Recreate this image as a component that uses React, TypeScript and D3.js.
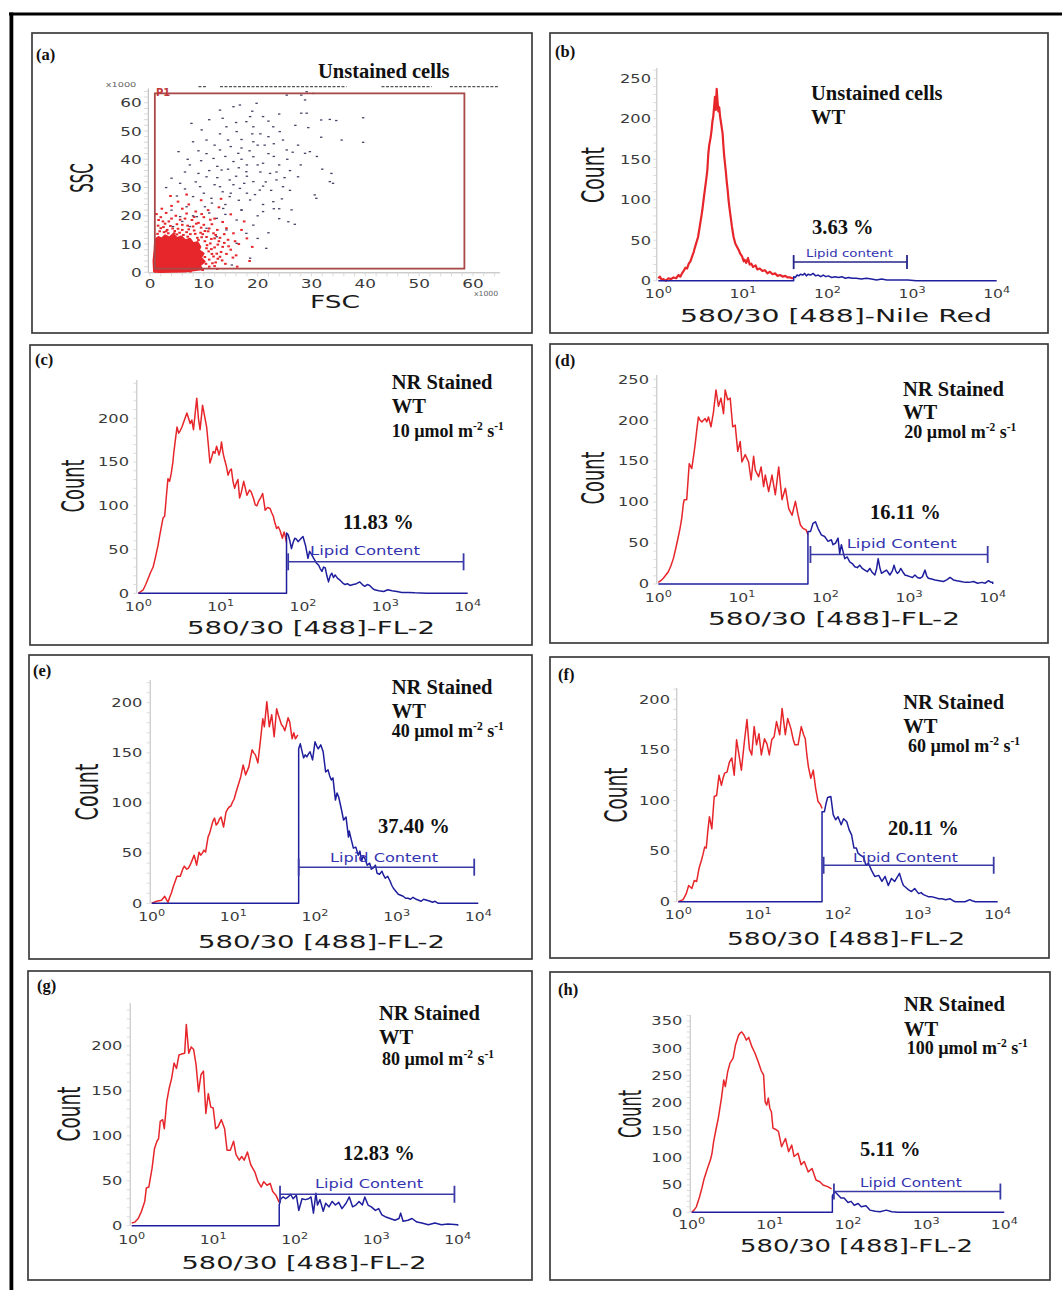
import React from 'react';
import * as d3 from 'd3';

type Pt = [number, number];

// ---------------- DATA ----------------
const panelLetters = ['(a)', '(b)', '(c)', '(d)', '(e)', '(f)', '(g)', '(h)'];
const lightIntensities = ['10', '20', '40', '60', '80', '100'];
const lipidPercents = ['3.63', '11.83', '16.11', '37.40', '20.11', '12.83', '5.11'];
const decadeTicks = [0, 1, 2, 3, 4];
const scatterTicks = [0, 10, 20, 30, 40, 50, 60];

// (a) FSC vs SSC (x1000)
const aCoreOutline: Pt[] = [[0.8, 0.3], [0.7, 4], [0.9, 8], [1.0, 11.5], [1.6, 12.4], [2.2, 11.8], [2.8, 13.0], [3.6, 12.2], [4.3, 13.4], [5.0, 12.0], [5.8, 12.6], [6.6, 11.2], [7.4, 11.8], [8.0, 10.2], [8.8, 10.6], [9.3, 9.0], [9.0, 7.8], [9.9, 6.6], [9.4, 5.2], [10.1, 3.8], [9.2, 2.4], [9.6, 1.2], [8.2, 0.8], [6.5, 0.4], [4.0, 0.3], [2.0, 0.2]];
const aRedDots: Pt[] = [[10.5, 12.5], [11.2, 10.2], [12.0, 8.8], [11.5, 6.5], [12.8, 11.0], [13.5, 9.0], [10.8, 14.5], [9.5, 15.8], [8.2, 14.8], [7.0, 16.5], [6.0, 15.0], [5.0, 17.0], [4.2, 15.5], [3.5, 18.0], [2.5, 16.0], [2.0, 19.5], [1.8, 14.5], [3.0, 21.0], [4.8, 20.0], [6.5, 19.0], [7.8, 18.5], [9.0, 17.5], [10.0, 19.5], [11.5, 17.0], [12.5, 15.0], [13.8, 13.5], [14.5, 11.5], [15.0, 8.0], [13.0, 5.5], [12.2, 3.5], [11.0, 2.0], [14.0, 3.0], [16.0, 6.0], [15.5, 13.8], [12.0, 19.0], [8.5, 21.5], [6.0, 22.5], [4.0, 23.5], [10.8, 22.0], [13.5, 17.8], [16.5, 10.0], [17.0, 15.0], [18.0, 12.0], [9.8, 13.5], [8.8, 12.2], [7.5, 13.5], [5.5, 14.0], [3.0, 14.5], [1.5, 16.5], [11.8, 13.8], [10.2, 11.0], [10.5, 8.5], [11.0, 4.5], [9.8, 0.8], [7.5, 0.3], [12.5, 1.2], [14.2, 6.5], [16.2, 2.0], [2.2, 22.5], [5.2, 25.0], [7.2, 24.0], [9.5, 25.5], [12.8, 23.0], [15.0, 20.5], [17.5, 18.0], [19.0, 9.0], [18.5, 4.0], [13.2, 26.0], [6.8, 27.5], [3.8, 27.0], [1.6, 18.5], [2.8, 17.2], [4.5, 13.8], [6.2, 13.2], [8.0, 16.2], [10.0, 16.8], [11.0, 15.5], [12.0, 12.0], [13.2, 7.2], [12.6, 4.8], [10.6, 9.6], [11.4, 11.8], [10.9, 7.4], [11.8, 5.6], [10.4, 3.0], [11.6, 3.2], [12.4, 6.6], [9.6, 12.4], [8.4, 13.6], [6.8, 14.2], [5.2, 15.4], [3.8, 16.4], [2.6, 14.2], [1.4, 13.6], [2.0, 15.6], [3.2, 15.0], [4.6, 14.6], [6.0, 16.8], [7.2, 15.2], [8.6, 17.2], [9.4, 14.0], [10.2, 14.6], [12.2, 13.2], [13.0, 12.2], [12.6, 9.8], [13.8, 10.4], [11.4, 8.2], [10.2, 5.4], [12.0, 2.2], [13.4, 4.2], [14.6, 9.2], [15.4, 5.2], [8.2, 19.6], [5.6, 18.6], [4.0, 19.0], [2.4, 18.0], [1.2, 20.6], [6.8, 20.8], [9.6, 20.6], [11.2, 18.6], [14.2, 15.6], [15.8, 11.0], [7.0, 12.6], [5.0, 13.4], [3.4, 13.8], [9.0, 11.4]];
const aDarkDots: Pt[] = [[39.6, 54.7], [39.6, 46.0], [33.4, 54.1], [34.6, 53.7], [31.8, 47.8], [35.6, 46.8], [33.7, 35.0], [33.4, 32.1], [34.0, 31.5], [30.9, 26.2], [30.6, 27.4], [26.9, 17.0], [25.7, 17.9], [26.3, 22.1], [29.4, 51.2], [29.1, 56.3], [25.4, 62.7], [28.1, 62.7], [28.8, 61.0], [29.1, 63.9], [30.3, 63.3], [31.8, 53.9], [28.1, 56.3], [29.7, 42.7], [28.8, 42.1], [27.5, 33.8], [24.7, 30.3], [25.4, 43.3], [24.7, 46.8], [24.1, 49.8], [22.9, 51.5], [22.0, 48.0], [21.0, 55.1], [19.8, 59.8], [16.7, 59.2], [15.5, 58.6], [13.0, 57.4], [7.7, 52.7], [9.6, 50.4], [10.5, 46.8], [8.0, 46.2], [5.3, 42.7], [7.4, 38.0], [4.0, 33.3], [5.6, 31.5], [18.6, 55.1], [17.9, 53.3], [19.2, 51.5], [14.2, 51.5], [16.1, 49.8], [14.5, 46.8], [19.2, 46.2], [21.3, 45.0], [13.0, 43.3], [16.4, 42.1], [19.2, 40.9], [11.8, 40.3], [15.5, 39.2], [21.0, 38.6], [13.3, 36.2], [17.9, 35.6], [22.3, 35.0], [10.5, 33.8], [14.8, 32.7], [19.2, 32.1], [23.5, 32.7], [9.3, 30.3], [13.0, 30.3], [16.7, 29.7], [20.4, 29.1], [8.0, 26.8], [11.4, 26.2], [14.8, 26.8], [18.6, 25.6], [22.9, 25.0], [6.8, 23.2], [10.2, 23.2], [13.6, 22.6], [17.0, 22.1], [21.0, 21.5], [5.6, 19.7], [8.7, 19.7], [12.4, 19.1], [16.1, 18.5], [19.2, 16.7], [4.3, 16.2], [7.4, 16.2], [10.5, 15.6], [14.2, 15.0], [17.9, 13.8], [21.6, 8.5], [18.6, 5.0], [15.2, 2.6], [12.4, 12.6], [16.1, 10.3], [6, 18], [8, 20], [11, 21], [14, 24], [17, 22], [20, 20], [22, 14], [24, 19], [10, 28], [12, 31], [16, 34], [18, 28], [21, 24], [26, 29], [28, 38], [23, 41], [20, 45], [17, 47], [13, 49], [11, 54], [19, 57], [24, 56], [27, 52], [31, 41], [15, 28], [9, 35], [7, 40], [5, 27], [4, 22], [3, 30], [12.5, 37.5], [15, 44.5], [18, 38], [20.5, 35.5], [22.5, 29], [24.5, 26], [26, 36], [23, 45.5], [17.5, 31.5], [14, 20.5], [11.5, 24.5], [9, 43], [6.5, 35.5], [20, 12], [23, 22.5], [25, 33.5], [27.5, 45], [32, 36.5], [13.5, 54.5], [16, 53], [12, 45], [14, 41], [16.5, 37], [18.5, 43], [20.5, 49], [22, 42], [24, 38], [25.5, 40], [21.5, 32], [19.5, 27.5], [16.5, 25.5], [13.5, 28.5], [11, 36], [8.5, 32], [6.5, 29.5], [9.5, 39.5], [12.5, 33.5], [15.5, 31], [18, 34], [21, 30.5], [24, 22.5], [17, 40], [14.5, 36.5], [10.5, 42], [19, 49], [22, 53.5], [17, 44], [23.5, 35.5], [26.5, 42.5], [20, 38]];
const aTopEventSegments: Pt[] = [[9, 10.5], [13, 36.5], [43, 52.3], [55.7, 64.9]];
const aTopEventLevel = 65.7;
const aGateP1 = { x0: 0.9, x1: 58.4, y0: 1.3, y1: 63.3 };

// (b) unstained, (decade exponent, count)
const bRed: Pt[] = [[0, 3], [0.02, 5], [0.04, 1], [0.06, 2], [0.09, 0], [0.12, 3], [0.15, 2], [0.18, 4], [0.21, 3], [0.24, 7], [0.26, 5], [0.28, 9], [0.30, 12], [0.32, 16], [0.34, 15], [0.36, 21], [0.38, 24], [0.40, 30], [0.42, 36], [0.43, 40], [0.45, 47], [0.47, 54], [0.49, 67], [0.51, 80], [0.52, 87], [0.54, 104], [0.55, 112], [0.57, 128], [0.58, 137], [0.59, 155], [0.60, 166], [0.62, 178], [0.63, 186], [0.64, 197], [0.65, 203], [0.66, 215], [0.67, 227], [0.68, 211], [0.69, 237], [0.70, 222], [0.71, 209], [0.72, 214], [0.73, 203], [0.74, 196], [0.76, 182], [0.77, 166], [0.78, 153], [0.79, 143], [0.80, 133], [0.81, 121], [0.82, 112], [0.83, 100], [0.84, 91], [0.86, 75], [0.87, 67], [0.89, 54], [0.91, 46], [0.93, 42], [0.95, 38], [0.97, 33], [0.99, 30], [1.01, 24], [1.02, 26], [1.04, 22], [1.06, 28], [1.08, 20], [1.10, 21], [1.12, 17], [1.15, 19], [1.17, 14], [1.20, 15], [1.23, 12], [1.26, 13], [1.29, 9], [1.32, 11], [1.35, 8], [1.38, 9], [1.41, 6], [1.44, 7], [1.47, 5], [1.50, 6], [1.53, 4], [1.56, 4], [1.58, 3], [1.60, 3]];
const bBlue: Pt[] = [[1.60, 5], [1.62, 4], [1.64, 7], [1.66, 6], [1.68, 8], [1.71, 7], [1.73, 9], [1.75, 6], [1.77, 8], [1.80, 7], [1.83, 9], [1.86, 6], [1.89, 7], [1.92, 5], [1.95, 7], [1.98, 5], [2.01, 6], [2.05, 4], [2.09, 5], [2.13, 4], [2.17, 5], [2.21, 3], [2.25, 4], [2.29, 3], [2.34, 3], [2.40, 2], [2.46, 3], [2.52, 2], [2.58, 1], [2.64, 2], [2.70, 1], [2.78, 1], [2.86, 1], [2.95, 1], [3.05, 0], [3.2, 0]];

// (c) 10 µmol
const cRed: Pt[] = [[0, 0], [0.03, 2], [0.06, 4], [0.09, 10], [0.12, 17], [0.15, 24], [0.18, 30], [0.21, 42], [0.24, 55], [0.26, 66], [0.28, 76], [0.30, 86], [0.32, 88], [0.34, 110], [0.36, 131], [0.38, 128], [0.40, 137], [0.42, 150], [0.43, 160], [0.45, 175], [0.47, 190], [0.49, 183], [0.51, 186], [0.53, 190], [0.56, 198], [0.59, 206], [0.61, 200], [0.63, 194], [0.65, 198], [0.67, 187], [0.69, 205], [0.71, 223], [0.73, 200], [0.75, 187], [0.77, 205], [0.78, 215], [0.80, 205], [0.83, 190], [0.85, 170], [0.87, 149], [0.89, 155], [0.91, 162], [0.93, 160], [0.95, 168], [0.97, 162], [0.98, 158], [1.00, 165], [1.01, 173], [1.03, 160], [1.05, 152], [1.07, 145], [1.09, 135], [1.11, 140], [1.13, 142], [1.15, 128], [1.17, 120], [1.19, 126], [1.21, 130], [1.23, 109], [1.25, 115], [1.28, 128], [1.30, 120], [1.32, 112], [1.35, 118], [1.37, 116], [1.40, 108], [1.42, 101], [1.44, 100], [1.46, 105], [1.49, 110], [1.51, 114], [1.53, 102], [1.54, 95], [1.57, 98], [1.60, 97], [1.62, 92], [1.64, 88], [1.66, 80], [1.68, 74], [1.70, 76], [1.72, 72], [1.74, 66], [1.75, 63], [1.77, 70], [1.78, 67], [1.80, 58]];
const cBlue: Pt[] = [[1.80, 69], [1.82, 67], [1.84, 60], [1.86, 51], [1.88, 58], [1.90, 63], [1.92, 62], [1.94, 59], [1.97, 62], [2.00, 65], [2.02, 58], [2.03, 55], [2.05, 45], [2.06, 40], [2.08, 48], [2.10, 45], [2.13, 40], [2.16, 35], [2.19, 32], [2.21, 28], [2.23, 25], [2.25, 30], [2.27, 29], [2.29, 20], [2.31, 13], [2.33, 20], [2.35, 23], [2.37, 18], [2.39, 21], [2.42, 17], [2.45, 15], [2.48, 12], [2.51, 10], [2.54, 11], [2.57, 9], [2.61, 10], [2.65, 11], [2.69, 13], [2.72, 10], [2.75, 8], [2.78, 10], [2.81, 9], [2.84, 6], [2.87, 4], [2.92, 3], [2.98, 2], [3.03, 4], [3.08, 3], [3.14, 2], [3.20, 1], [3.28, 1], [3.36, 0.5], [3.5, 0]];

// (d) 20 µmol
const dRed: Pt[] = [[0, 2], [0.03, 4], [0.06, 7], [0.09, 11], [0.12, 15], [0.15, 22], [0.18, 31], [0.21, 44], [0.24, 58], [0.26, 68], [0.28, 80], [0.30, 98], [0.31, 103], [0.34, 103], [0.37, 147], [0.40, 141], [0.42, 155], [0.44, 170], [0.46, 188], [0.48, 204], [0.50, 200], [0.52, 198], [0.54, 200], [0.56, 202], [0.58, 198], [0.60, 204], [0.63, 192], [0.66, 210], [0.69, 237], [0.72, 217], [0.75, 227], [0.78, 208], [0.80, 237], [0.83, 225], [0.86, 227], [0.89, 192], [0.92, 194], [0.95, 162], [0.98, 174], [1.00, 149], [1.04, 158], [1.08, 149], [1.11, 127], [1.14, 156], [1.16, 139], [1.20, 131], [1.23, 143], [1.26, 119], [1.28, 133], [1.32, 113], [1.36, 133], [1.40, 109], [1.44, 143], [1.48, 103], [1.52, 117], [1.56, 92], [1.60, 84], [1.64, 101], [1.67, 85], [1.70, 72], [1.73, 68], [1.77, 66], [1.79, 60]];
const dBlue: Pt[] = [[1.79, 64], [1.82, 64], [1.85, 74], [1.88, 76], [1.91, 68], [1.95, 60], [1.99, 58], [2.03, 52], [2.07, 54], [2.09, 48], [2.12, 50], [2.15, 56], [2.17, 37], [2.19, 48], [2.23, 31], [2.26, 33], [2.29, 27], [2.32, 25], [2.35, 21], [2.38, 20], [2.41, 23], [2.44, 19], [2.47, 17], [2.50, 15], [2.53, 19], [2.56, 14], [2.59, 11], [2.61, 18], [2.63, 31], [2.65, 20], [2.67, 13], [2.70, 15], [2.73, 17], [2.75, 14], [2.77, 11], [2.80, 16], [2.82, 23], [2.84, 16], [2.86, 13], [2.88, 15], [2.90, 19], [2.93, 14], [2.95, 11], [2.98, 10], [3.01, 9], [3.04, 8], [3.07, 11], [3.10, 8], [3.13, 7], [3.16, 9], [3.19, 17], [3.21, 10], [3.23, 7], [3.27, 6], [3.31, 5], [3.36, 4], [3.41, 3], [3.45, 5], [3.49, 8], [3.53, 5], [3.57, 4], [3.62, 3], [3.67, 2], [3.72, 2], [3.77, 3], [3.82, 1], [3.87, 2], [3.91, 1], [3.95, 4], [3.98, 2], [4.0, 2]];

// (e) 40 µmol
const eRed: Pt[] = [[0, 0], [0.06, 2], [0.12, 3], [0.16, 7], [0.20, 1], [0.22, 6], [0.24, 10], [0.27, 18], [0.31, 27], [0.35, 27], [0.38, 34], [0.40, 37], [0.43, 34], [0.45, 35], [0.47, 38], [0.49, 42], [0.52, 48], [0.55, 38], [0.58, 51], [0.60, 48], [0.62, 50], [0.64, 53], [0.66, 51], [0.69, 66], [0.71, 70], [0.73, 76], [0.75, 82], [0.77, 85], [0.79, 78], [0.81, 80], [0.83, 84], [0.85, 86], [0.88, 76], [0.91, 91], [0.93, 94], [0.95, 96], [0.97, 97], [0.99, 101], [1.01, 104], [1.03, 110], [1.06, 118], [1.09, 126], [1.12, 138], [1.15, 128], [1.17, 132], [1.19, 136], [1.21, 145], [1.23, 153], [1.25, 150], [1.27, 148], [1.30, 140], [1.33, 161], [1.36, 184], [1.38, 176], [1.41, 201], [1.44, 176], [1.47, 188], [1.50, 166], [1.53, 194], [1.55, 188], [1.57, 183], [1.59, 178], [1.61, 176], [1.63, 172], [1.65, 178], [1.67, 185], [1.69, 181], [1.72, 164], [1.74, 170], [1.76, 164], [1.79, 168]];
const eBlue: Pt[] = [[1.80, 154], [1.82, 159], [1.84, 152], [1.86, 145], [1.88, 148], [1.90, 146], [1.92, 149], [1.94, 151], [1.97, 143], [2.00, 161], [2.02, 157], [2.04, 154], [2.07, 158], [2.10, 151], [2.13, 131], [2.16, 133], [2.18, 127], [2.20, 123], [2.22, 125], [2.25, 103], [2.27, 110], [2.29, 106], [2.32, 95], [2.35, 83], [2.38, 86], [2.41, 66], [2.42, 72], [2.44, 65], [2.47, 55], [2.50, 56], [2.53, 48], [2.55, 52], [2.57, 42], [2.59, 47], [2.61, 45], [2.64, 38], [2.67, 40], [2.69, 34], [2.71, 35], [2.74, 38], [2.76, 30], [2.79, 29], [2.82, 32], [2.84, 28], [2.86, 25], [2.89, 27], [2.92, 22], [2.94, 18], [2.96, 15], [2.99, 12], [3.02, 9], [3.05, 8], [3.08, 7], [3.11, 5], [3.14, 5], [3.17, 4], [3.20, 6], [3.24, 4], [3.27, 3], [3.30, 2], [3.33, 4], [3.37, 3], [3.41, 2], [3.44, 1], [3.47, 2], [3.51, 0]];

// (f) 60 µmol
const fRed: Pt[] = [[0, 0], [0.06, 2], [0.10, 8], [0.13, 16], [0.17, 13], [0.20, 21], [0.23, 20], [0.26, 33], [0.29, 41], [0.31, 47], [0.33, 54], [0.35, 53], [0.37, 70], [0.39, 84], [0.42, 72], [0.45, 104], [0.48, 105], [0.51, 125], [0.54, 115], [0.56, 122], [0.58, 127], [0.61, 128], [0.64, 138], [0.67, 142], [0.70, 125], [0.73, 160], [0.76, 145], [0.79, 130], [0.83, 160], [0.86, 180], [0.89, 151], [0.92, 145], [0.95, 173], [0.98, 155], [1.01, 166], [1.04, 145], [1.08, 161], [1.11, 156], [1.14, 145], [1.17, 160], [1.20, 163], [1.23, 178], [1.27, 165], [1.30, 191], [1.34, 165], [1.37, 181], [1.41, 171], [1.44, 160], [1.46, 155], [1.50, 155], [1.54, 173], [1.57, 165], [1.59, 161], [1.61, 145], [1.63, 133], [1.66, 122], [1.69, 130], [1.72, 112], [1.75, 99], [1.78, 96], [1.80, 92]];
const fBlue: Pt[] = [[1.80, 89], [1.83, 89], [1.85, 97], [1.87, 103], [1.91, 104], [1.94, 86], [1.97, 81], [2.00, 84], [2.04, 76], [2.07, 82], [2.11, 79], [2.14, 71], [2.17, 66], [2.20, 53], [2.23, 53], [2.25, 48], [2.28, 46], [2.32, 44], [2.35, 36], [2.38, 38], [2.42, 31], [2.44, 28], [2.46, 25], [2.51, 26], [2.55, 20], [2.59, 25], [2.63, 16], [2.67, 23], [2.71, 20], [2.74, 24], [2.77, 28], [2.80, 20], [2.82, 16], [2.85, 14], [2.88, 12], [2.92, 10], [2.96, 13], [3.01, 8], [3.04, 9], [3.07, 7], [3.10, 6], [3.13, 5], [3.17, 5], [3.22, 4], [3.26, 3], [3.30, 3], [3.35, 2], [3.40, 3], [3.44, 1], [3.47, 0], [3.59, 0], [3.62, 1], [3.65, 2], [3.68, 1], [3.72, 0]];

// (g) 80 µmol
const gRed: Pt[] = [[0, 3], [0.04, 4], [0.08, 8], [0.12, 16], [0.16, 27], [0.18, 42], [0.21, 43], [0.25, 64], [0.28, 86], [0.31, 94], [0.33, 97], [0.35, 116], [0.38, 118], [0.40, 108], [0.43, 138], [0.46, 153], [0.49, 164], [0.52, 181], [0.55, 175], [0.58, 190], [0.61, 191], [0.65, 192], [0.67, 224], [0.70, 192], [0.73, 199], [0.76, 196], [0.79, 179], [0.82, 149], [0.85, 168], [0.88, 172], [0.91, 125], [0.94, 147], [0.97, 132], [1.00, 131], [1.03, 108], [1.06, 110], [1.10, 118], [1.14, 108], [1.17, 84], [1.21, 84], [1.25, 94], [1.28, 79], [1.32, 73], [1.35, 77], [1.38, 73], [1.42, 82], [1.46, 68], [1.51, 60], [1.55, 49], [1.59, 43], [1.62, 49], [1.66, 45], [1.70, 47], [1.73, 38], [1.77, 34], [1.81, 26]];
const gBlue: Pt[] = [[1.81, 23], [1.83, 30], [1.86, 32], [1.89, 30], [1.92, 32], [1.95, 35], [1.98, 30], [2.02, 34], [2.05, 17], [2.09, 30], [2.13, 29], [2.17, 30], [2.20, 32], [2.23, 14], [2.26, 36], [2.28, 23], [2.31, 29], [2.35, 16], [2.38, 25], [2.42, 21], [2.46, 27], [2.50, 23], [2.54, 26], [2.58, 19], [2.63, 25], [2.67, 32], [2.71, 21], [2.75, 23], [2.79, 27], [2.83, 23], [2.86, 32], [2.90, 23], [2.94, 21], [2.99, 17], [3.03, 19], [3.07, 12], [3.11, 10], [3.17, 8], [3.23, 6], [3.28, 8], [3.30, 14], [3.33, 5], [3.39, 6], [3.44, 8], [3.50, 4], [3.56, 3], [3.64, 1], [3.72, 3], [3.80, 1], [3.88, 2], [4.0, 1]];

// (h) 100 µmol
const hRed: Pt[] = [[0, 0], [0.03, 4], [0.06, 10], [0.10, 28], [0.13, 44], [0.16, 62], [0.19, 75], [0.21, 84], [0.24, 96], [0.26, 108], [0.28, 129], [0.31, 151], [0.34, 172], [0.36, 190], [0.38, 208], [0.41, 242], [0.43, 230], [0.46, 257], [0.49, 273], [0.53, 282], [0.56, 306], [0.60, 324], [0.62, 328], [0.64, 330], [0.67, 324], [0.70, 315], [0.73, 320], [0.77, 303], [0.81, 291], [0.85, 276], [0.89, 259], [0.92, 251], [0.94, 202], [0.96, 196], [0.98, 209], [1.00, 190], [1.02, 184], [1.04, 154], [1.07, 152], [1.11, 148], [1.15, 120], [1.20, 135], [1.24, 111], [1.28, 123], [1.31, 102], [1.36, 108], [1.40, 87], [1.44, 93], [1.49, 74], [1.54, 80], [1.59, 59], [1.64, 56], [1.68, 50], [1.74, 47], [1.79, 43]];
const hBlue: Pt[] = [[1.80, 30], [1.83, 38], [1.87, 32], [1.91, 26], [1.95, 26], [2.00, 18], [2.04, 20], [2.08, 13], [2.13, 16], [2.17, 10], [2.23, 12], [2.28, 4], [2.35, 2], [2.41, 1], [2.49, 4], [2.56, 1], [2.64, 0]];

// ---------------- RENDERING ----------------
const RED = '#e6262b';
const BLUE = '#1f1f9e';
const SANS = 'DejaVu Sans';
const SERIF = 'Liberation Serif, Times New Roman, serif';

function SText(p: any) {
  const { x, y, sx = 1.3, size = 12.5, anchor = 'start', fill = '#3a3a3a', family = SANS, weight = 'normal', rotate = 0, len, baseline, children } = p;
  const tf = `translate(${x},${y}) scale(${sx},1)` + (rotate ? ` rotate(${rotate})` : '');
  return (
    <text transform={tf} fontSize={size} textAnchor={anchor} fill={fill} fontFamily={family} fontWeight={weight}
      dominantBaseline={baseline} textLength={len} lengthAdjust={len ? 'spacingAndGlyphs' : undefined}>
      {children}
    </text>
  );
}

function Box({ b, label, lx, ly }: any) {
  return (
    <g>
      <rect x={b[0]} y={b[1]} width={b[2] - b[0]} height={b[3] - b[1]} fill="#fff" stroke="#3c3c3c" strokeWidth={1.7} />
      <text x={lx} y={ly} fontFamily={SERIF} fontWeight="bold" fontSize={16.5} fill="#111">{label}</text>
    </g>
  );
}

function BoldLine({ x, y, size = 20.5, children }: any) {
  return <text x={x} y={y} fontFamily={SERIF} fontWeight="bold" fontSize={size} fill="#111">{children}</text>;
}

function Intensity({ x, y, value }: any) {
  return (
    <text x={x} y={y} fontFamily={SERIF} fontWeight="bold" fontSize={18} fill="#111">
      {value} µmol m<tspan dy={-7} fontSize={11.5}>-2</tspan><tspan dy={7}> s</tspan><tspan dy={-7} fontSize={11.5}>-1</tspan>
    </text>
  );
}

function ScatterPanel() {
  const x = d3.scaleLinear().domain([0, 60]).range([150, 473]);
  const y = d3.scaleLinear().domain([0, 60]).range([272.3, 102.7]);
  const core = d3.line<Pt>().x(d => x(d[0])).y(d => y(d[1])).curve(d3.curveLinearClosed)(aCoreOutline) || '';
  const minorY = d3.range(0, 66, 2);
  const minorX = d3.range(0, 66, 2);
  return (
    <g>
      <Box b={[32, 33, 532, 333]} label={panelLetters[0]} lx={36} ly={60} />
      <line x1={148.3} x2={148.3} y1={y(0)} y2={y(65)} stroke="#b5b5b5" strokeWidth={1} />
      <line x1={148.3} x2={x(65)} y1={y(0) + 0.5} y2={y(0) + 0.5} stroke="#b5b5b5" strokeWidth={1} />
      {minorY.map(v => <line key={'my' + v} x1={144} x2={148.3} y1={y(v)} y2={y(v)} stroke="#cfcfcf" strokeWidth={0.8} />)}
      {minorX.map(v => <line key={'mx' + v} x1={x(v)} x2={x(v)} y1={y(0) + 1} y2={y(0) + 4} stroke="#cfcfcf" strokeWidth={0.8} />)}
      {scatterTicks.map(v => (
        <SText key={'yl' + v} x={141.7} y={y(v)} anchor="end" baseline="central" sx={1.35} size={12.5}>{v}</SText>
      ))}
      {scatterTicks.map(v => (
        <SText key={'xl' + v} x={x(v)} y={287.5} anchor="middle" sx={1.35} size={12.5}>{v}</SText>
      ))}
      <SText x={121} y={86.5} anchor="middle" sx={1.4} size={7} fill="#666">x1000</SText>
      <SText x={486} y={296} anchor="middle" sx={1.1} size={7} fill="#666">x1000</SText>
      <SText x={335} y={308} anchor="middle" sx={1.47} size={18} fill="#1a1a1a">FSC</SText>
      <SText x={82.5} y={178} anchor="middle" baseline="central" sx={2.15} size={15} rotate={-90} fill="#1a1a1a">SSC</SText>
      {aTopEventSegments.map((s, i) => (
        <line key={'te' + i} x1={x(s[0])} x2={x(s[1])} y1={y(aTopEventLevel)} y2={y(aTopEventLevel)} stroke="#555" strokeWidth={1.3} strokeDasharray="3,1.5" />
      ))}
      <path d={core} fill={RED} stroke={RED} strokeWidth={2.5} strokeLinejoin="round" />
      {aRedDots.map((d, i) => <rect key={'r' + i} x={x(d[0]) - 1.3} y={y(d[1]) - 1} width={2.6} height={2} fill={RED} />)}
      {aDarkDots.map((d, i) => <rect key={'k' + i} x={x(d[0]) - 1.2} y={y(d[1]) - 0.6} width={2.4} height={1.3} fill="#4a3f66" />)}
      <rect x={x(aGateP1.x0)} y={y(aGateP1.y1)} width={x(aGateP1.x1) - x(aGateP1.x0)} height={y(aGateP1.y0) - y(aGateP1.y1)}
        fill="none" stroke="#a84848" strokeWidth={1.8} />
      <text x={156} y={96} fontFamily={SANS} fontWeight="bold" fontSize={10} fill="#c03a3a">P1</text>
      <BoldLine x={318} y={78}>Unstained cells</BoldLine>
    </g>
  );
}

function HistPanel({ c }: any) {
  const x = d3.scaleLinear().domain([0, 4]).range([c.x0, c.x1]);
  const y = d3.scaleLinear().domain([0, c.yRefV]).range([c.y0, c.yRefPx]);
  const line = d3.line<Pt>().x(d => x(d[0])).y(d => y(d[1]));
  const gateStart = c.blue[0][0];
  const bluePts: Pt[] = [[0, 0], [gateStart, 0], ...c.blue, [4, 0]];
  const yTopV = y.invert(c.yTopPx);
  const minor = d3.range(0, yTopV, 10);
  const major = d3.range(0, c.yMax + 1, 50);
  const gy = y(c.gateLevel);
  return (
    <g>
      <Box b={c.box} label={c.label} lx={c.lx} ly={c.ly} />
      <line x1={c.x0 - 1.5} x2={c.x0 - 1.5} y1={y(0)} y2={c.yTopPx} stroke="#bdbdbd" strokeWidth={1} />
      {minor.map((v: number) => <line key={'mi' + v} x1={c.x0 - 5} x2={c.x0 - 1.5} y1={y(v)} y2={y(v)} stroke="#d4d4d4" strokeWidth={0.8} />)}
      {major.map((v: number) => (
        <SText key={'yl' + v} x={c.yLabX} y={y(v)} anchor="end" baseline="central">{v}</SText>
      ))}
      {decadeTicks.map(k => (
        <SText key={'xl' + k} x={x(k)} y={c.xLabY} anchor="middle" sx={1.25}>
          10<tspan dy={-5} fontSize={9}>{k}</tspan>
        </SText>
      ))}
      <text x={c.titleX} y={c.titleY} textAnchor="middle" fontFamily={SANS} fontSize={c.titleSize} fill="#1a1a1a"
        textLength={c.titleLen} lengthAdjust="spacingAndGlyphs">{c.title}</text>
      <SText x={c.countX} y={c.countY} anchor="middle" baseline="central" sx={1.75} size={18} rotate={-90} len={c.countLen} fill="#1a1a1a">Count</SText>
      <path d={line(c.red) || ''} fill="none" stroke={RED} strokeWidth={c.redWidth} strokeLinejoin="round" />
      <path d={line(bluePts) || ''} fill="none" stroke={BLUE} strokeWidth={1.5} strokeLinejoin="round" />
      <line x1={x(c.gate[0])} x2={x(c.gate[1])} y1={gy} y2={gy} stroke={c.gateColor} strokeWidth={1.5} />
      <line x1={x(c.gate[0])} x2={x(c.gate[0])} y1={gy - c.gateHalf} y2={gy + c.gateHalf} stroke={c.gateColor} strokeWidth={1.8} />
      <line x1={x(c.gate[1])} x2={x(c.gate[1])} y1={gy - c.gateHalf} y2={gy + c.gateHalf} stroke={c.gateColor} strokeWidth={1.8} />
      <text x={c.lipX0} y={c.lipY} fontFamily={SANS} fontSize={c.lipSize} fill="#3434b0" textLength={c.lipX1 - c.lipX0}
        lengthAdjust="spacingAndGlyphs">{c.lipText}</text>
      {c.lines.map((t: string, i: number) => <BoldLine key={'bl' + i} x={c.annX} y={c.annY[i]}>{t}</BoldLine>)}
      {c.intensity && <Intensity x={c.intX} y={c.intY} value={c.intensity} />}
      <BoldLine x={c.pctX} y={c.pctY}>{c.pct} %</BoldLine>
    </g>
  );
}

const histConfigs = [
  { label: panelLetters[1], box: [550, 33, 1048, 333], lx: 555, ly: 57, x0: 658.3, x1: 996.7, y0: 280.7, yRefV: 250, yRefPx: 78.3, yMax: 250, yTopPx: 68, yLabX: 651, xLabY: 298,
    title: '580/30 [488]-Nile Red', titleX: 836, titleY: 322, titleLen: 312, titleSize: 18.5, countX: 593, countY: 175, countLen: 56,
    red: bRed, blue: bBlue, redWidth: 2.2, gate: [1.60, 2.94], gateLevel: 23, gateHalf: 7, gateColor: '#25258a', lipText: 'Lipid content', lipX0: 806, lipX1: 893, lipY: 257, lipSize: 10,
    lines: ['Unstained cells', 'WT'], annX: 811, annY: [100, 124], intensity: null, pct: lipidPercents[0], pctX: 812, pctY: 234 },
  { label: panelLetters[2], box: [30, 345, 532, 645], lx: 35, ly: 365, x0: 138.3, x1: 467.7, y0: 593.3, yRefV: 200, yRefPx: 418.3, yMax: 200, yTopPx: 380, yLabX: 129, xLabY: 611,
    title: '580/30 [488]-FL-2', titleX: 311, titleY: 634, titleLen: 248, titleSize: 17.5, countX: 73, countY: 486, countLen: 53,
    red: cRed, blue: cBlue, redWidth: 1.5, gate: [1.82, 3.95], gateLevel: 36, gateHalf: 8.5, gateColor: '#3a3aa6', lipText: 'Lipid Content', lipX0: 310, lipX1: 420, lipY: 555, lipSize: 12.5,
    lines: ['NR Stained', 'WT'], annX: 391.7, annY: [389, 413], intensity: lightIntensities[0], intX: 391.7, intY: 436.7, pct: lipidPercents[1], pctX: 343, pctY: 529 },
  { label: panelLetters[3], box: [550, 344, 1048, 643], lx: 555, ly: 366, x0: 658.3, x1: 992.7, y0: 584, yRefV: 250, yRefPx: 379.3, yMax: 250, yTopPx: 375, yLabX: 649, xLabY: 602,
    title: '580/30 [488]-FL-2', titleX: 834, titleY: 625, titleLen: 252, titleSize: 17.5, countX: 593, countY: 478, countLen: 53,
    red: dRed, blue: dBlue, redWidth: 1.5, gate: [1.82, 3.94], gateLevel: 36, gateHalf: 8.5, gateColor: '#3a3aa6', lipText: 'Lipid Content', lipX0: 846.7, lipX1: 956.7, lipY: 548.3, lipSize: 12.5,
    lines: ['NR Stained', 'WT'], annX: 903, annY: [395.7, 419], intensity: lightIntensities[1], intX: 904.3, intY: 438.3, pct: lipidPercents[2], pctX: 870, pctY: 519 },
  { label: panelLetters[4], box: [29, 655, 532, 959], lx: 33, ly: 676, x0: 151.7, x1: 478.3, y0: 903.3, yRefV: 200, yRefPx: 702.7, yMax: 200, yTopPx: 680, yLabX: 142.3, xLabY: 921,
    title: '580/30 [488]-FL-2', titleX: 321.5, titleY: 948, titleLen: 247, titleSize: 17.5, countX: 86.5, countY: 792, countLen: 57,
    red: eRed, blue: eBlue, redWidth: 1.5, gate: [1.80, 3.95], gateLevel: 36, gateHalf: 8.5, gateColor: '#3a3aa6', lipText: 'Lipid Content', lipX0: 330, lipX1: 438, lipY: 861.7, lipSize: 12.5,
    lines: ['NR Stained', 'WT'], annX: 391.7, annY: [694, 718], intensity: lightIntensities[2], intX: 391.7, intY: 736.7, pct: lipidPercents[3], pctX: 378, pctY: 833 },
  { label: panelLetters[5], box: [550, 657, 1049, 958], lx: 558, ly: 680, x0: 678.3, x1: 997.7, y0: 901.7, yRefV: 200, yRefPx: 699.3, yMax: 200, yTopPx: 688, yLabX: 670, xLabY: 919,
    title: '580/30 [488]-FL-2', titleX: 846, titleY: 945, titleLen: 238, titleSize: 17.5, countX: 616, countY: 795, countLen: 55,
    red: fRed, blue: fBlue, redWidth: 1.5, gate: [1.82, 3.95], gateLevel: 36, gateHalf: 8.5, gateColor: '#3a3aa6', lipText: 'Lipid Content', lipX0: 853, lipX1: 958, lipY: 861.7, lipSize: 12.5,
    lines: ['NR Stained', 'WT'], annX: 903.3, annY: [709, 733], intensity: lightIntensities[3], intX: 908, intY: 752, pct: lipidPercents[4], pctX: 888, pctY: 835 },
  { label: panelLetters[6], box: [28, 971, 532, 1280], lx: 37, ly: 991, x0: 131.7, x1: 457.7, y0: 1225.7, yRefV: 200, yRefPx: 1046, yMax: 200, yTopPx: 1003, yLabX: 122.3, xLabY: 1244,
    title: '580/30 [488]-FL-2', titleX: 304, titleY: 1269, titleLen: 245, titleSize: 17.5, countX: 68.5, countY: 1114, countLen: 55,
    red: gRed, blue: gBlue, redWidth: 1.5, gate: [1.82, 3.96], gateLevel: 35, gateHalf: 8.5, gateColor: '#3a3aa6', lipText: 'Lipid Content', lipX0: 315, lipX1: 423, lipY: 1188.3, lipSize: 12.5,
    lines: ['NR Stained', 'WT'], annX: 379, annY: [1020, 1044], intensity: lightIntensities[4], intX: 382, intY: 1065, pct: lipidPercents[5], pctX: 343, pctY: 1160 },
  { label: panelLetters[7], box: [550, 972, 1050, 1280], lx: 558, ly: 995, x0: 691.7, x1: 1004.3, y0: 1212.3, yRefV: 350, yRefPx: 1021, yMax: 350, yTopPx: 1015, yLabX: 682.3, xLabY: 1229,
    title: '580/30 [488]-FL-2', titleX: 856.5, titleY: 1252, titleLen: 233, titleSize: 17.5, countX: 630, countY: 1114, countLen: 48,
    red: hRed, blue: hBlue, redWidth: 1.5, gate: [1.82, 3.95], gateLevel: 38, gateHalf: 8, gateColor: '#3a3aa6', lipText: 'Lipid Content', lipX0: 860, lipX1: 961.7, lipY: 1186.7, lipSize: 12.5,
    lines: ['NR Stained', 'WT'], annX: 904, annY: [1011, 1035.7], intensity: lightIntensities[5], intX: 906.7, intY: 1054, pct: lipidPercents[6], pctX: 860, pctY: 1155.7 },
];

export default function App() {
  return (
    <svg width={1062} height={1290} viewBox="0 0 1062 1290" style={{ position: 'absolute', left: 0, top: 0, background: '#fff' }}>
      <rect x={0} y={0} width={1062} height={1290} fill="#fff" />
      <rect x={9} y={12.5} width={1053} height={3} fill="#000" />
      <rect x={9.5} y={12.5} width={3.8} height={1277.5} fill="#000" />
      <ScatterPanel />
      {histConfigs.map((c, i) => <HistPanel key={i} c={c} />)}
    </svg>
  );
}
